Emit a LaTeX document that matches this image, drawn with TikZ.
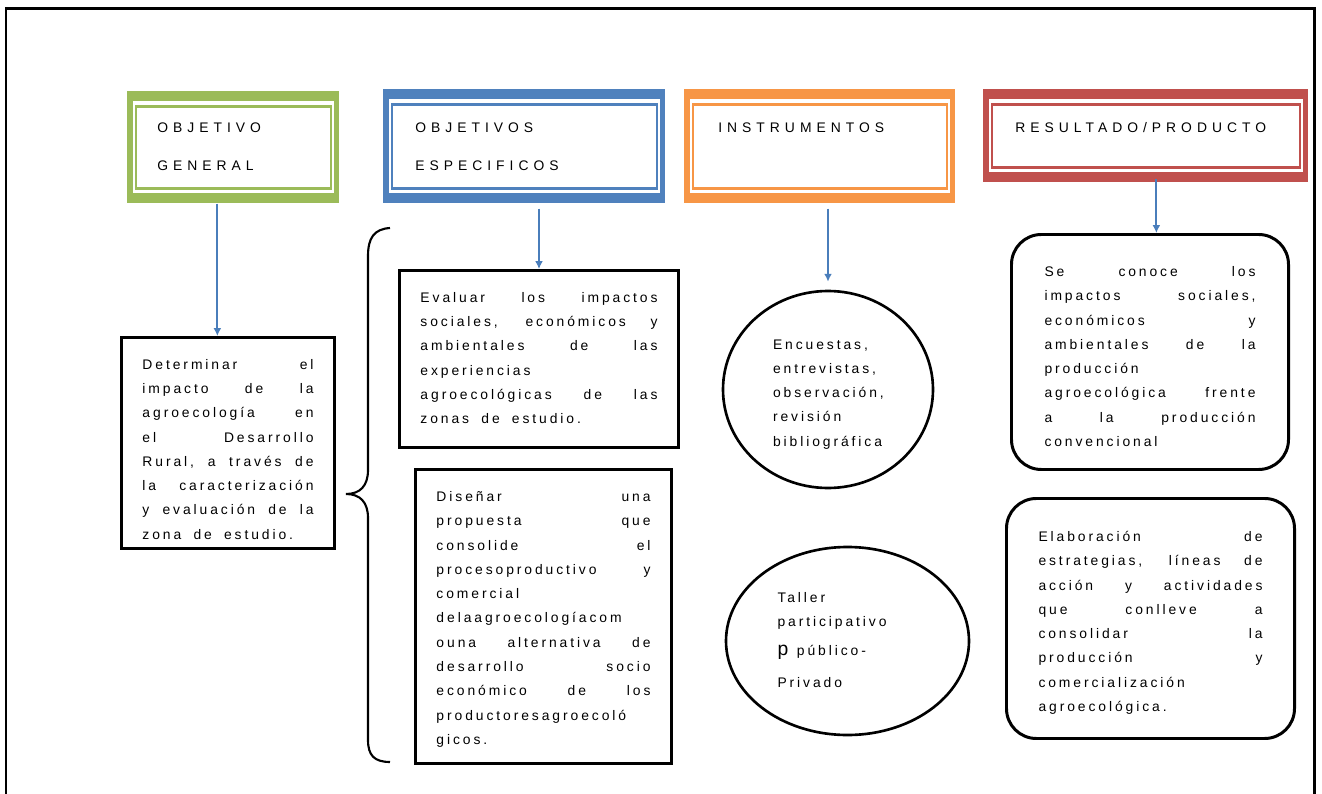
\documentclass[tikz,border=0pt]{standalone}
\usepackage{fontspec}
\setmainfont{Liberation Sans}
\newfontfamily\bodyfam{Liberation Sans}[LetterSpace=21,WordSpace=1.8]
\newfontfamily\hdrfam{Liberation Sans}[LetterSpace=36]
\usetikzlibrary{positioning,shapes.geometric,arrows.meta}

\newlength\px
\setlength\px{0.02cm}
\definecolor{hgreen}{HTML}{9BBB59}
\definecolor{hblue}{HTML}{4F81BD}
\definecolor{horange}{HTML}{F79646}
\definecolor{hred}{HTML}{C0504D}
\definecolor{arrblue}{HTML}{4A7EBB}
\newcommand\bodyfont{\bodyfam\fontsize{7.9pt}{13.83pt}\selectfont}
\newcommand\hdrfont{\hdrfam\fontsize{7.9pt}{21.5pt}\selectfont}
\tolerance=10000
\hbadness=10000
\hyphenpenalty=10000

\begin{document}
\begin{tikzpicture}[
  x=0.02cm, y=-0.02cm,
  hdr/.style={fill=#1, anchor=north west, inner ysep=0pt, align=left, font=\hdrfont,
    path picture={
      \fill[white] ([shift={(5.5,10)}]path picture bounding box.north west)
        rectangle ([shift={(-5.5,-10)}]path picture bounding box.south east);
      \draw[#1, line width=1.4pt] ([shift={(8.5,15)}]path picture bounding box.north west)
        rectangle ([shift={(-8.5,-15)}]path picture bounding box.south east);}},
  txtbox/.style={draw, line width=1.7pt, anchor=north west, inner ysep=0pt, align=justify, font=\bodyfont},
  rndbox/.style={txtbox, rounded corners=17pt},
  oval/.style={draw, ellipse, line width=1.5pt, inner sep=0pt, align=left, font=\bodyfont},
  arr/.style={draw=arrblue, line width=1.1pt, -{Latex[length=4.5pt,width=4.5pt]}}
]
\useasboundingbox (0,0) rectangle (1322,794);
\draw[line width=1.6pt] (6,794) -- (6,8.5) -- (1314.5,8.5) -- (1314.5,794);

\node[hdr=hgreen, text width=152\px, inner xsep=30\px, text height=41.3\px, text depth=70.7\px] (gen) at (127,91) {OBJETIVO\\GENERAL};
\node[hdr=hblue, text width=218\px, inner xsep=32\px, text height=43.3\px, text depth=70.7\px] (esp) at (383,89) {OBJETIVOS\\ESPECIFICOS};
\node[hdr=horange, text width=203\px, inner xsep=34\px, text height=43.3\px, text depth=70.7\px] (ins) at (684,89) {INSTRUMENTOS};
\node[hdr=hred, text width=261\px, inner xsep=32\px, text height=43.3\px, text depth=49.7\px] (res) at (983,89) {RESULTADO/PRODUCTO};

\node[txtbox, text width=171\px, inner xsep=21\px, text height=31.7\px, text depth=179.3\px] (det) at (120,336)
  {Determinar el\linebreak impacto de la\linebreak agroecología en\linebreak el Desarrollo\linebreak Rural, a través de\linebreak la caracterización\linebreak y evaluación de la\linebreak zona de estudio.};
\node[txtbox, text width=237\px, inner xsep=21\px, text height=31.7\px, text depth=145.3\px] (eva) at (398,269)
  {Evaluar los impactos\linebreak sociales, económicos y\linebreak ambientales de las\linebreak experiencias\linebreak agroecológicas de las\linebreak zonas de estudio.};
\node[txtbox, text width=214\px, inner xsep=21\px, text height=32\px, text depth=262\px] (dis) at (414,468)
  {Diseñar una\linebreak propuesta que\linebreak consolide el\linebreak procesoproductivo y\linebreak comercial\linebreak delaagroecologíacom\linebreak ouna alternativa de\linebreak desarrollo socio\linebreak económico de los\linebreak productoresagroecoló\linebreak gicos.};

\node[oval, minimum width=210\px, minimum height=197\px, text width=110\px, text height=20\px, text depth=101\px] (enc) at (828,389.5)
  {Encuestas,\\entrevistas,\\observación,\\revisión\\bibliográfica};
\node[oval, minimum width=243\px, minimum height=188\px, text width=140\px, text height=20\px, text depth=97\px] (tal) at (847.5,641)
  {Taller\\participativo\\[4.5\px]{\fontsize{11pt}{13pt}\selectfont p}\hspace{4\px} público-\\[7.5\px]Privado};

\node[rndbox, text width=211\px, inner xsep=33\px, text height=42\px, text depth=193\px] (se) at (1010,233)
  {Se conoce los\linebreak impactos sociales,\linebreak económicos y\linebreak ambientales de la\linebreak producción\linebreak agroecológica frente\linebreak a la producción\linebreak convencional};
\node[rndbox, text width=224\px, inner xsep=32\px, text height=43\px, text depth=197\px] (ela) at (1005,497)
  {Elaboración de\linebreak estrategias, líneas de\linebreak acción y actividades\linebreak que conlleve a\linebreak consolidar la\linebreak producción y\linebreak comercialización\linebreak agroecológica.};

\coordinate (g1) at ([xshift=-16\px]gen.south);
\coordinate (r1) at ([xshift=10.5\px,yshift=4\px]res.south);
\draw[arr] (g1) -- (g1 |- det.north);
\draw[arr] (esp.south -| eva.north) ++(0,5) -- (eva.north);
\draw[arr] (ins.south -| enc.north) ++(0,5) -- ([yshift=8\px]enc.north);
\draw[arr] (r1) -- (r1 |- se.north);

\draw[line width=1.2pt] (390,228) .. controls (374,229) and (368,238) .. (368,256)
  -- (368,470) .. controls (368,486) and (360,494) .. (346,494)
  .. controls (360,494) and (368,502) .. (368,518)
  -- (368,740) .. controls (368,755) and (374,762) .. (390,762);
\end{tikzpicture}
\end{document}
